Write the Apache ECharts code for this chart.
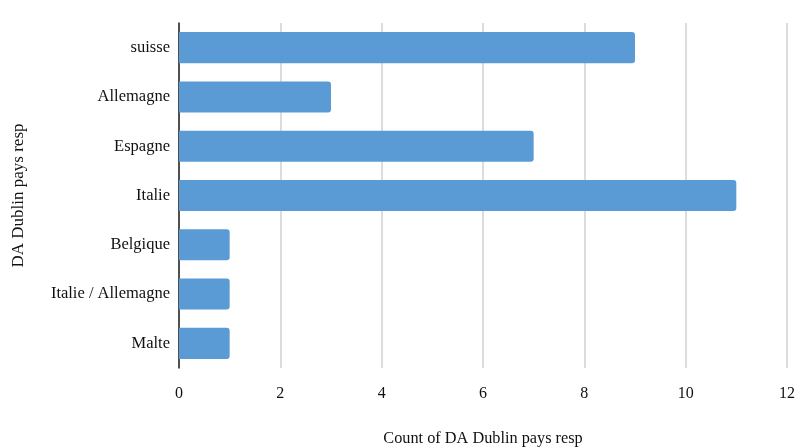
<!DOCTYPE html>
<html><head><meta charset="utf-8">
<script src="https://cdn.jsdelivr.net/npm/echarts@6/dist/echarts.min.js"></script>
<style>html,body{margin:0;padding:0;background:#fff}#c{width:796px;height:447px}</style>
</head><body><div id="c"></div>
<script>
const categories = ["suisse","Allemagne","Espagne","Italie","Belgique","Italie / Allemagne","Malte"];
const values = [9,3,7,11,1,1,1];
const xTicks = {min:0,max:12,interval:2};
const font = "'Liberation Serif', 'Times New Roman', serif";
const chart = echarts.init(document.getElementById('c'));
chart.setOption({
  animation:false,
  grid:{left:179,right:9,top:23,bottom:79,containLabel:false,outerBoundsMode:'none'},
  xAxis:{type:'value',min:xTicks.min,max:xTicks.max,interval:xTicks.interval,
    name:'Count of DA Dublin pays resp',nameLocation:'middle',nameGap:63,
    nameTextStyle:{fontFamily:font,fontSize:16.3,color:'#111'},
    axisLine:{show:false},axisTick:{show:false},
    axisLabel:{fontFamily:font,fontSize:16,color:'#111',margin:18},
    splitLine:{lineStyle:{color:'#d0d0d0',width:1.5}}},
  yAxis:{type:'category',data:categories,inverse:true,
    name:'DA Dublin pays resp',nameLocation:'middle',nameGap:152,nameRotate:90,
    nameTextStyle:{fontFamily:font,fontSize:17,color:'#111'},
    axisLine:{show:true,lineStyle:{color:'#222',width:1.5}},axisTick:{show:false},
    axisLabel:{fontFamily:font,fontSize:16.5,color:'#111',margin:9}},
  series:[{type:'bar',data:values,barCategoryGap:'37%',
    itemStyle:{color:'#5b9bd5',borderRadius:[0,3,3,0]}}]
});
</script></body></html>
